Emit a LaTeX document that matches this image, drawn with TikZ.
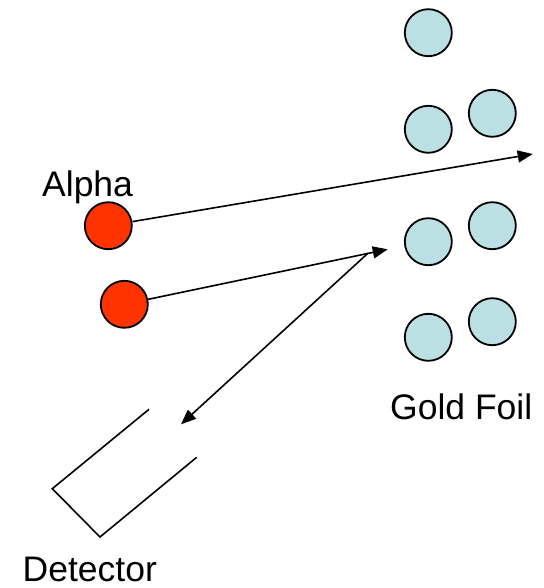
\documentclass[tikz,border=0pt]{standalone}
\usepackage{fontspec}
\setmainfont{Liberation Sans}
\usetikzlibrary{arrows.meta}
\definecolor{alphared}{RGB}{255,51,0}
\definecolor{goldblue}{RGB}{187,224,228}
\tikzset{
  atom/.style={circle, draw=black, line width=1.8pt, fill=goldblue, minimum size=47pt, inner sep=0pt},
  alphap/.style={circle, draw=black, line width=1.8pt, fill=alphared, minimum size=47pt, inner sep=0pt},
  ray/.style={line width=1.6pt, -{Triangle[length=15pt,width=12pt]}},
  label/.style={font=\fontsize{35.5}{38}\selectfont, anchor=base west, inner sep=0pt},
  detline/.style={line width=1.6pt}
}
\begin{document}
\begin{tikzpicture}[x=1pt,y=-1pt]
\useasboundingbox (0,0) rectangle (543,588);
% gold atoms
\node[atom] (g1) at (428.3,32.7) {};
\node[atom] (g2) at (428.3,129.3) {};
\node[atom] (g3) at (492.3,113.3) {};
\node[atom] (g4) at (428.3,241.7) {};
\node[atom] (g5) at (492.3,225.7) {};
\node[atom] (g6) at (428.3,337.3) {};
\node[atom] (g7) at (492.3,321.7) {};
% alpha particles
\node[alphap] (a1) at (108.3,225.7) {};
\node[alphap] (a2) at (124.3,304.3) {};
% coordinates
\coordinate (t1) at (532.7,154);
\coordinate (t2) at (387.7,249.3);
\coordinate (r) at (368,253.2);
\coordinate (d) at (181,424.3);
% rays
\draw[ray] (a1) -- (t1);
\draw[ray] (a2) -- (t2);
\draw[ray] (r) -- (d);
% detector
\draw[detline] (149,409.3) -- (52.3,488.7) -- (100,537) -- (196.7,457.3);
% labels
\node[label] (lalpha) at (42,196) {Alpha};
\node[label] (lgold) at (390,419.3) {Gold Foil};
\node[label, text depth=0pt] (ldet) at (22.5,581.5) {Detector};
\end{tikzpicture}
\end{document}
